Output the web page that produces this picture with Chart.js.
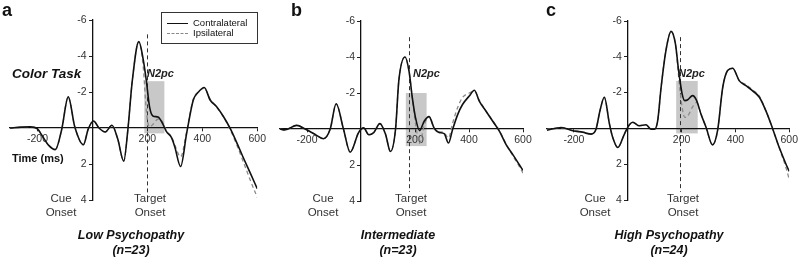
<!DOCTYPE html>
<html>
<head>
<meta charset="utf-8">
<script src="https://cdn.jsdelivr.net/npm/chart.js@4.4.1/dist/chart.umd.min.js"></script>
<style>
  html, body { margin: 0; padding: 0; background: #fff; }
  #wrap { position: relative; width: 800px; height: 269px; overflow: hidden;
          font-family: "Liberation Sans", Arial, sans-serif; }
  #wrap canvas { position: absolute; top: 0; }
  .t { position: absolute; white-space: nowrap; line-height: 1; color: #222; }
  #legend { position: absolute; left: 161px; top: 12px; width: 95px; height: 30px;
            border: 1px solid #333; background: #fff; }
  #legend .ln { position: absolute; left: 5px; width: 21px; height: 0; }
  #legend .lt { position: absolute; left: 31px; font-size: 9.5px; line-height: 1; color: #111; }
</style>
</head>
<body>
<div id="wrap">
  <canvas id="chartA" width="268" height="269" style="left:0px"></canvas>
  <canvas id="chartB" width="268" height="269" style="left:268px"></canvas>
  <canvas id="chartC" width="264" height="269" style="left:536px"></canvas>
  <div id="legend">
    <div class="ln" style="top:10px;border-top:1.8px solid #111"></div>
    <div class="lt" style="top:5px">Contralateral</div>
    <div class="ln" style="top:20px;border-top:1.3px dashed #888"></div>
    <div class="lt" style="top:15px">Ipsilateral</div>
  </div>
</div>
<script>
// tick values
const xTicks = [-200, 200, 400, 600];
const yTicks = [-6, -4, -2, 2, 4];

// panel a - low psychopathy
const aTime   = [-300, -260, -225, -200, -180, -160, -135, -112, -88, -64, -33, -15, 4, 24, 47, 71, 92, 114, 129, 145, 169, 185, 196, 208, 220, 239, 257, 269, 288, 300, 321, 343, 367, 386, 407, 429, 453, 478, 502, 527, 551, 576, 600];
const aContra = [0, -0.05, -0.06, 0.05, 0.5, 0.95, 1.2, 0.1, -1.73, -0.05, 0.93, 0.05, -0.39, 0, 0.22, -0.15, 0.6, 1.84, 0.1, -2.6, -4.8, -3.8, -2.66, -1.17, -0.67, -0.61, -0.2, 0.19, 0.54, 1.06, 2.14, 0.3, -1.54, -2.0, -2.25, -1.54, -1.17, -0.61, 0.04, 0.87, 1.71, 2.55, 3.37];
const aIpsi   = [0, -0.03, -0.04, 0.05, 0.5, 0.95, 1.2, 0.1, -1.73, -0.05, 0.93, 0.05, -0.39, 0, 0.22, -0.15, 0.6, 1.84, 0.1, -2.6, -4.8, -3.4, -1.0, -0.05, -0.2, -0.5, -0.3, 0.15, 0.5, 0.95, 1.6, 0.2, -1.6, -2.0, -2.2, -1.6, -1.15, -0.6, 0.1, 1.0, 1.95, 2.95, 3.85];

// panel b - intermediate
const bTime   = [-300, -282, -238, -207, -170, -139, -114, -92, -65, -40, -9, 10, 29, 47, 70, 91, 109, 128, 140, 163, 178, 190, 202, 217, 234, 252, 271, 289, 308, 324, 339, 358, 376, 401, 420, 438, 463, 488, 513, 538, 563, 587, 600];
const bContra = [0, 0.05, -0.2, 0, 0.3, 0.54, 0, -1.4, 0, 1.29, 0.2, -0.06, 0.32, 0.2, -0.3, 0.3, 1.25, 0, -2.67, -4.0, -3.2, -1.74, -0.62, 0.09, -0.43, -0.69, -0.05, 0.19, 0.26, 0.78, 0.04, -0.8, -1.36, -1.83, -2.15, -1.55, -0.99, -0.43, 0.13, 0.88, 1.44, 2.0, 2.3];
const bIpsi   = [0, 0.05, -0.2, 0, 0.3, 0.54, 0, -1.4, 0, 1.29, 0.2, -0.06, 0.32, 0.2, -0.3, 0.3, 1.25, 0, -2.67, -4.0, -3.2, -1.74, -0.3, 0.8, -0.2, -0.7, 0.0, 0.15, 0.2, 0.5, -0.3, -1.2, -1.75, -2.0, -2.1, -1.6, -1.0, -0.45, 0.1, 0.85, 1.5, 2.1, 2.45];

// panel c - high psychopathy
const cTime   = [-300, -247, -204, -167, -136, -118, -103, -87, -68, -56, -37, -12, 6, 19, 43, 68, 87, 99, 111, 124, 142, 161, 177, 189, 202, 212, 223, 241, 256, 272, 291, 315, 334, 353, 371, 390, 414, 439, 464, 489, 513, 538, 563, 588, 600];
const cContra = [0.1, -0.05, 0.13, 0.22, 0.32, 0.05, -1.0, -1.74, -0.25, 0.5, 1.07, 0.3, -0.2, -0.34, -0.15, -0.2, 0.05, 0.05, -0.4, -2.3, -4.36, -5.42, -4.73, -3.23, -1.93, -1.55, -1.6, -1.83, -1.55, -0.8, -0.06, 0.92, 0.1, -2.3, -3.23, -3.36, -2.67, -2.39, -2.1, -1.74, -0.99, 0, 1.07, 2.0, 2.4];
const cIpsi   = [0.05, -0.03, 0.1, 0.2, 0.3, 0.05, -1.0, -1.74, -0.25, 0.5, 1.07, 0.3, -0.2, -0.34, -0.15, -0.2, 0.05, 0.05, -0.4, -2.3, -4.36, -5.42, -4.73, -2.9, -1.18, -0.62, -0.7, -1.2, -1.45, -0.8, -0.06, 0.92, 0.1, -2.3, -3.23, -3.36, -2.67, -2.45, -2.15, -1.8, -1.0, 0.0, 1.1, 2.2, 2.85];

// N2pc window (ms) and shaded range (uV), target onset line, per panel a/b/c
const n2pcStart  = [189, 166, 180];
const n2pcEnd    = [262, 243, 260];
const n2pcTop    = [-2.6, -2.0, -2.65];
const n2pcBottom = [0.3, 0.95, 0.28];
const targetOnset = [198, 179, 193];
const onsetTop    = [-5.2, -5.1, -5.1];
const onsetBottom = [4, 3.5, 3.55];

const groupTitles = ['Low Psychopathy', 'Intermediate', 'High Psychopathy'];
const groupN = ['(n=23)', '(n=23)', '(n=24)'];

Chart.defaults.font.family = '"Liberation Sans", Arial, sans-serif';

function marcas(i) {
    return {
        id: 'marcas' + i,
        beforeDraw(chart) {
            const ctx = chart.ctx, x = chart.scales.x, y = chart.scales.y;
            const x0 = x.getPixelForValue(n2pcStart[i]);
            const x1 = x.getPixelForValue(n2pcEnd[i]);
            const y0 = y.getPixelForValue(n2pcTop[i]);
            const y1 = y.getPixelForValue(n2pcBottom[i]);
            ctx.save();
            ctx.fillStyle = '#c8c8c8';
            ctx.fillRect(x0, y0, x1 - x0, y1 - y0);
            ctx.restore();
        },
        beforeDatasetsDraw(chart) {
            const ctx = chart.ctx, x = chart.scales.x, y = chart.scales.y;
            const px = Math.round(x.getPixelForValue(targetOnset[i])) + 0.5;
            ctx.save();
            ctx.strokeStyle = '#333';
            ctx.lineWidth = 1;
            ctx.setLineDash([4, 3]);
            ctx.beginPath();
            ctx.moveTo(px, y.getPixelForValue(onsetTop[i]));
            ctx.lineTo(px, y.getPixelForValue(onsetBottom[i]));
            ctx.stroke();
            ctx.restore();
        }
    };
}

function crear_panel(id, i, tiempo, contra, ipsi, pad) {
    const puntos = (arr) => tiempo.map((t, k) => ({ x: t, y: arr[k] }));
    return new Chart(document.getElementById(id), {
        type: 'line',
        data: {
            datasets: [
                {
                    label: 'Contralateral',
                    data: puntos(contra),
                    borderColor: '#111',
                    borderWidth: 1.6,
                    pointRadius: 0,
                    cubicInterpolationMode: 'monotone'
                },
                {
                    label: 'Ipsilateral',
                    data: puntos(ipsi),
                    borderColor: '#8a8a8a',
                    borderWidth: 1.3,
                    borderDash: [4, 3],
                    pointRadius: 0,
                    cubicInterpolationMode: 'monotone'
                }
            ]
        },
        options: {
            responsive: false,
            animation: false,
            events: [],
            layout: { padding: pad },
            plugins: { legend: { display: false }, tooltip: { enabled: false } },
            scales: {
                x: {
                    type: 'linear', min: -300, max: 600,
                    position: { y: 0 },
                    afterFit: (s) => { s.height = 0; },
                    afterBuildTicks: (s) => { s.ticks = xTicks.map(v => ({ value: v })); },
                    grid: { display: true, drawOnChartArea: false, tickLength: 3, color: '#222' },
                    border: { color: '#111', width: 1.3 },
                    ticks: { padding: 2, color: '#333', font: { size: 10.5 }, maxRotation: 0, autoSkip: false }
                },
                y: {
                    type: 'linear', min: -6, max: 4, reverse: true,
                    position: { x: 0 },
                    afterFit: (s) => { s.width = 0; },
                    afterBuildTicks: (s) => { s.ticks = yTicks.map(v => ({ value: v })); },
                    grid: { display: true, drawOnChartArea: false, tickLength: 3, color: '#222' },
                    border: { color: '#111', width: 1.3 },
                    // label sits right-aligned on the axis, so pad it with spaces
                    ticks: { color: '#333', font: { size: 10.5 }, autoSkip: false, callback: (v) => v + '  ' }
                }
            }
        },
        plugins: [marcas(i)]
    });
}

crear_panel('chartA', 0, aTime, aContra, aIpsi, { left: 10, right: 10, top: 20, bottom: 69 });
crear_panel('chartB', 1, bTime, bContra, bIpsi, { left: 12, right: 13, top: 21, bottom: 68 });
crear_panel('chartC', 2, cTime, cContra, cIpsi, { left: 11, right: 10, top: 21, bottom: 69 });

// text labels
const wrap = document.getElementById('wrap');
function texto(txt, x, base, size, estilo, align, color) {
    const d = document.createElement('div');
    d.className = 't';
    d.textContent = txt;
    d.style.fontSize = size + 'px';
    d.style.top = (base - 0.8465 * size) + 'px';
    d.style.left = x + 'px';
    if (estilo.indexOf('b') >= 0) d.style.fontWeight = 'bold';
    if (estilo.indexOf('i') >= 0) d.style.fontStyle = 'italic';
    if (align === 'c') d.style.transform = 'translateX(-50%)';
    if (color) d.style.color = color;
    wrap.appendChild(d);
}

texto('a', 2, 16, 18, 'b', 'l', '#111');
texto('b', 291, 16, 18, 'b', 'l', '#111');
texto('c', 546, 16, 18, 'b', 'l', '#111');
texto('Color Task', 12, 78, 13.5, 'bi', 'l', '#111');
texto('Time (ms)', 12, 162, 11, 'b', 'l', '#111');

const cueX = [61, 323, 595];
const targetX = [150, 411, 683];
const n2pcX = [147, 413, 678];
const titleX = [131, 398, 669];
for (let i = 0; i < 3; i++) {
    texto('Cue', cueX[i], 203, 11.5, '', 'c', '#333');
    texto('Onset', cueX[i], 217, 11.5, '', 'c', '#333');
    texto('Target', targetX[i], 203, 11.5, '', 'c', '#333');
    texto('Onset', targetX[i], 217, 11.5, '', 'c', '#333');
    texto('N2pc', n2pcX[i], 77, 11, 'bi', 'l', '#222');
    texto(groupTitles[i], titleX[i], 240, 12.5, 'bi', 'c', '#111');
    texto(groupN[i], titleX[i], 255, 12.5, 'bi', 'c', '#111');
}
</script>
</body>
</html>
